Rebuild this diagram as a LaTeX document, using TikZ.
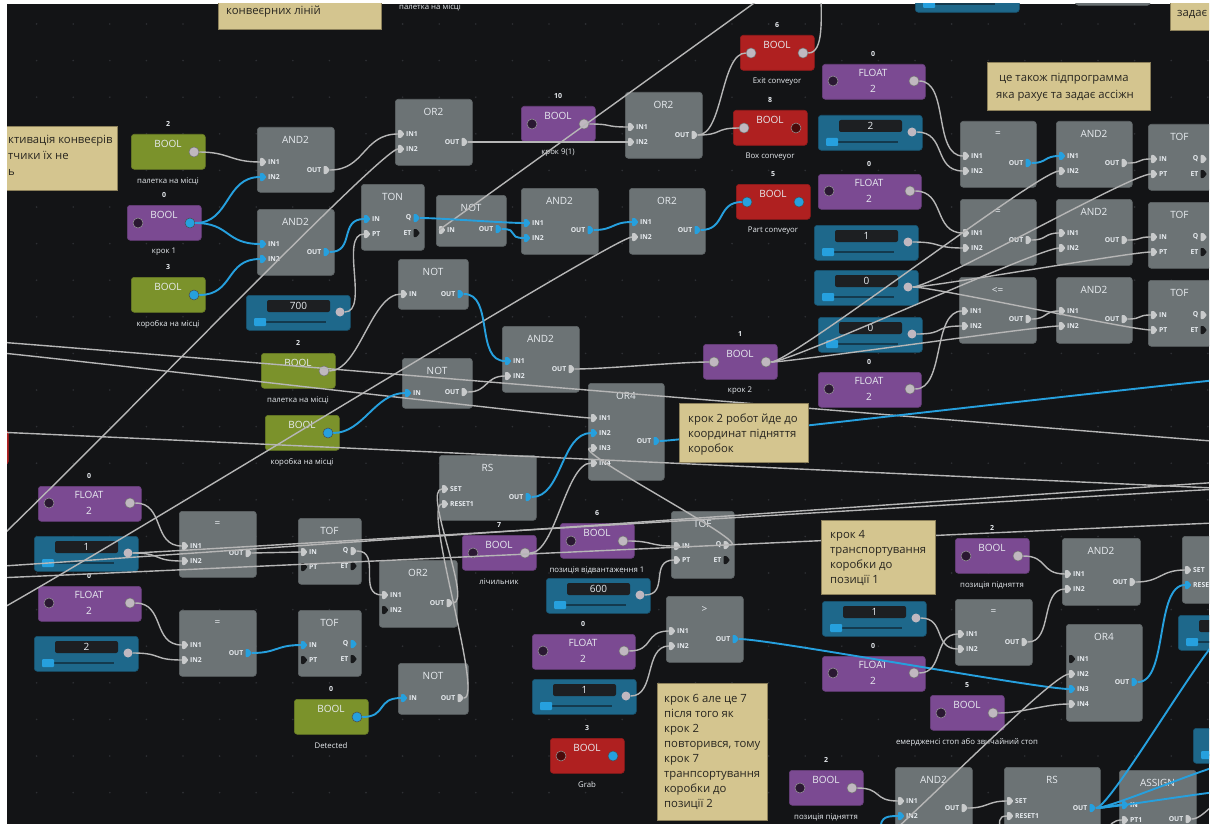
\documentclass[tikz,border=0pt]{standalone}
\usepackage{fontspec}
\setmainfont{Open Sans}
\usetikzlibrary{calc}

\definecolor{canvas}{RGB}{19,20,22}
\definecolor{griddot}{RGB}{46,48,52}
\definecolor{gatefill}{RGB}{108,115,117}
\definecolor{gateedge}{RGB}{96,102,104}
\definecolor{boolgreen}{RGB}{123,146,43}
\definecolor{boolpurple}{RGB}{123,74,146}
\definecolor{boolred}{RGB}{175,32,32}
\definecolor{tealbox}{RGB}{30,104,139}
\definecolor{tealfield}{RGB}{29,31,34}
\definecolor{tealtrack}{RGB}{20,58,78}
\definecolor{notefill}{RGB}{212,197,143}
\definecolor{noteedge}{RGB}{140,128,90}
\definecolor{notetextc}{RGB}{40,38,32}
\definecolor{wiregray}{RGB}{182,182,182}
\definecolor{wireblue}{RGB}{38,160,222}
\definecolor{pinlight}{RGB}{200,202,203}
\definecolor{pinblack}{RGB}{24,25,27}
\definecolor{labeltext}{RGB}{232,236,240}
\definecolor{knobgray}{RGB}{192,184,192}
\definecolor{knobdark}{RGB}{42,24,50}
\definecolor{knobred}{RGB}{72,10,10}

\tikzset{
  gatebox/.style={fill=gatefill, draw=gateedge, line width=.6pt, rounded corners=3pt, inner sep=0pt, anchor=north west},
  gatetitle/.style={text=labeltext, font=\fontsize{10}{10}\selectfont, inner sep=0pt},
  pinlabel/.style={text=labeltext, font=\bfseries\fontsize{6.8}{7}\selectfont, inner sep=0pt},
  numlabel/.style={text=labeltext, font=\bfseries\fontsize{7}{7}\selectfont, inner sep=0pt},
  namelabel/.style={text=labeltext, font=\fontsize{7.8}{8}\selectfont, inner sep=0pt},
  knob/.style={circle, inner sep=0pt, minimum size=10pt, line width=.5pt},
  kgray/.style={knob, fill=knobgray, draw=black!55},
  kblue/.style={knob, fill=wireblue, draw=black!70},
  kdark/.style={knob, fill=knobdark, draw=black!40},
  kred/.style={knob, fill=knobred, draw=black!40},
  knone/.style={knob},
  gw/.style={draw=wiregray, line width=1.4pt},
  bw/.style={draw=wireblue, line width=1.9pt},
  notebox/.style={fill=notefill, draw=noteedge, line width=.7pt, inner sep=0pt, anchor=north west},
  notetext/.style={text=notetextc, font=\fontsize{11.3}{15}\selectfont, align=left, inner sep=0pt, anchor=north west},
}

% logic block: name, x, y, width, height, title
\newcommand\gate[6]{%
  \node[gatebox, minimum width=#4pt, minimum height=#5pt] (#1) at (#2,#3) {};
  \node[gatetitle] (#1-title) at (#2+#4/2,#3+13) {#6};
}
% input pin: name, left edge of block, y, label, colour
\newcommand\inpin[5]{%
  \fill[#5, rounded corners=.8pt] (#2+3,#3-4) -- (#2+6,#3-4) -- (#2+9.5,#3) -- (#2+6,#3+4) -- (#2+3,#3+4) -- cycle;
  \coordinate (#1) at (#2+3,#3);
  \node[pinlabel, anchor=west] (#1-lbl) at (#2+11,#3) {#4};
}
% output pin: name, right edge of block, y, label, colour
\newcommand\outpin[5]{%
  \fill[#5, rounded corners=.8pt] (#2-10.5,#3-4) -- (#2-7.5,#3-4) -- (#2-4,#3) -- (#2-7.5,#3+4) -- (#2-10.5,#3+4) -- cycle;
  \coordinate (#1) at (#2-4,#3);
  \node[pinlabel, anchor=east] (#1-lbl) at (#2-12.5,#3) {#4};
}
% boolean variable: name, x, y, colour, number, caption, left knob, right knob
\newcommand\boolnode[8]{%
  \node[gatebox, fill=#4, draw=#4!85!black, minimum width=74pt, minimum height=35pt] (#1) at (#2,#3) {};
  \node[gatetitle] (#1-title) at (#2+37,#3+10) {BOOL};
  \node[numlabel] (#1-num) at (#2+37,#3-10) {#5};
  \node[namelabel] (#1-cap) at (#2+37,#3+47) {#6};
  \node[#7] (#1-l) at (#2+11,#3+18) {};
  \node[#8] (#1-r) at (#2+63,#3+18) {};
}
% float variable: name, x, y, number
\newcommand\floatnode[4]{%
  \node[gatebox, fill=boolpurple, draw=boolpurple!85!black, minimum width=103pt, minimum height=35pt] (#1) at (#2,#3) {};
  \node[gatetitle] (#1-title) at (#2+51,#3+9) {FLOAT};
  \node[gatetitle] (#1-val) at (#2+51,#3+25) {2};
  \node[numlabel] (#1-num) at (#2+51,#3-10) {#4};
  \node[kdark] (#1-l) at (#2+11,#3+17) {};
  \node[kgray] (#1-r) at (#2+92,#3+17) {};
}
% numeric input with slider: name, x, y, value
\newcommand\tealnode[4]{%
  \node[gatebox, fill=tealbox, draw=tealbox!80!black, minimum width=104pt, minimum height=35pt] (#1) at (#2,#3) {};
  \fill[tealfield, rounded corners=2pt] (#2+21,#3+5) rectangle (#2+84,#3+17);
  \node[gatetitle] (#1-val) at (#2+52.5,#3+11) {#4};
  \draw[tealtrack, line width=1.2pt] (#2+14,#3+27) -- (#2+80,#3+27);
  \fill[wireblue, rounded corners=1pt] (#2+8,#3+23) rectangle (#2+20,#3+31);
  \node[knob, fill=knobgray, minimum size=9pt] (#1-r) at (#2+94,#3+17) {};
}
% connector: [style] control distance, from, to
\newcommand\wire[4][gw]{\draw[#1] (#3) .. controls +(#2,0) and +(-#2,0) .. (#4);}

\begin{document}
\begin{tikzpicture}[x=1pt,y=-1pt]
\useasboundingbox (0,0) rectangle (1210,824);
\fill[white] (0,0) rectangle (1210,824);
\clip (7,4) rectangle (1209,824);
\fill[canvas] (7,4) rectangle (1209,824);
\foreach \i in {1,...,33} \foreach \j in {0,...,22} \fill[griddot] (36.6*\i,24+36.6*\j) circle[radius=0.9];

% ---------- blocks cut by the border ----------
\node[gatebox, minimum width=75pt, minimum height=60pt] (topgate) at (1075,-55) {};
\node[gatebox, fill=boolred, draw=boolred, minimum width=74pt, minimum height=34pt] (leftred) at (-66,430) {};
\tealnode{tp3}{915}{-23}{}
\tealnode{tp1}{1178}{615}{}
\tealnode{tp2}{1193}{728}{}
\node[namelabel] (toplabel) at (430,7) {палетка на місці};

% ---------- variables ----------
\boolnode{pal1}{131}{134}{boolgreen}{2}{палетка на місці}{knone}{kgray}
\boolnode{krok1}{127}{205}{boolpurple}{0}{крок 1}{kdark}{kblue}
\boolnode{korob1}{131}{277}{boolgreen}{3}{коробка на місці}{knone}{kblue}
\boolnode{bool10}{521}{106}{boolpurple}{10}{крок 9(1)}{kdark}{kgray}
\boolnode{exit}{740}{35}{boolred}{6}{Exit conveyor}{kgray}{kgray}
\boolnode{boxc}{733}{110}{boolred}{8}{Box conveyor}{kgray}{kred}
\boolnode{part}{736}{184}{boolred}{5}{Part conveyor}{kblue}{kblue}
\boolnode{pal2}{261}{353}{boolgreen}{2}{палетка на місці}{knone}{kgray}
\boolnode{korob2}{265}{415}{boolgreen}{}{коробка на місці}{knone}{kblue}
\boolnode{krok2}{703}{344}{boolpurple}{1}{крок 2}{kgray}{kgray}
\boolnode{count}{462}{535}{boolpurple}{7}{лічильник}{kdark}{kgray}
\boolnode{unload}{560}{523}{boolpurple}{6}{позиція відвантаження 1}{kdark}{kgray}
\boolnode{det}{294}{699}{boolgreen}{0}{Detected}{knone}{kblue}
\boolnode{grab}{550}{738}{boolred}{3}{Grab}{kred}{kblue}
\boolnode{lift1}{955}{538}{boolpurple}{2}{позиція підняття}{kdark}{kgray}
\boolnode{estop}{930}{695}{boolpurple}{5}{емердженсі стоп або звичайний стоп}{kdark}{kgray}
\boolnode{lift2}{789}{770}{boolpurple}{2}{позиція підняття}{kdark}{kgray}

\floatnode{fl1}{822}{64}{0}
\floatnode{fl2}{818}{174}{0}
\floatnode{fl3}{818}{372}{0}
\floatnode{fla}{38}{486}{0}
\floatnode{flb}{38}{586}{0}
\floatnode{flc}{532}{634}{0}
\floatnode{fld}{822}{656}{0}

\tealnode{t700}{246}{295}{700}
\tealnode{tv2}{818}{115}{2}
\tealnode{tv1}{814}{225}{1}
\tealnode{tz1}{814}{270}{0}
\tealnode{tz2}{818}{317}{0}
\tealnode{ta1}{34}{536}{1}
\tealnode{ta2}{34}{636}{2}
\tealnode{t600}{546}{578}{600}
\tealnode{tc1}{532}{679}{1}
\tealnode{td1}{822}{601}{1}

% ---------- logic blocks ----------
\gate{g1}{257}{127}{77}{65}{AND2}
\inpin{g1-i1}{257}{162}{IN1}{pinlight}\inpin{g1-i2}{257}{177}{IN2}{wireblue}\outpin{g1-o}{334}{170}{OUT}{pinlight}
\gate{g2}{257}{209}{77}{66}{AND2}
\inpin{g2-i1}{257}{244}{IN1}{wireblue}\inpin{g2-i2}{257}{259}{IN2}{wireblue}\outpin{g2-o}{334}{252}{OUT}{wireblue}
\gate{g3}{395}{99}{77}{66}{OR2}
\inpin{g3-i1}{395}{134}{IN1}{pinlight}\inpin{g3-i2}{395}{149}{IN2}{pinlight}\outpin{g3-o}{472}{142}{OUT}{pinlight}
\gate{ton}{361}{184}{63}{66}{TON}
\inpin{ton-i1}{361}{219}{IN}{wireblue}\inpin{ton-i2}{361}{234}{PT}{pinlight}\outpin{ton-q}{424}{218}{Q}{wireblue}\outpin{ton-et}{424}{233}{ET}{pinblack}
\gate{not1}{436}{195}{70}{51}{NOT}
\inpin{not1-i1}{436}{230}{IN}{pinlight}\outpin{not1-o}{506}{229}{OUT}{wireblue}
\gate{g4}{521}{188}{77}{66}{AND2}
\inpin{g4-i1}{521}{223}{IN1}{wireblue}\inpin{g4-i2}{521}{238}{IN2}{wireblue}\outpin{g4-o}{598}{230}{OUT}{wireblue}
\gate{not2}{398}{259}{70}{50}{NOT}
\inpin{not2-i1}{398}{294}{IN}{pinlight}\outpin{not2-o}{468}{294}{OUT}{wireblue}
\gate{g5}{502}{326}{77}{66}{AND2}
\inpin{g5-i1}{502}{361}{IN1}{wireblue}\inpin{g5-i2}{502}{376}{IN2}{pinlight}\outpin{g5-o}{579}{369}{OUT}{pinlight}
\gate{not3}{402}{358}{70}{50}{NOT}
\inpin{not3-i1}{402}{393}{IN}{wireblue}\outpin{not3-o}{472}{392}{OUT}{pinlight}
\gate{or4a}{588}{383}{76}{97}{OR4}
\inpin{or4a-i1}{588}{418}{IN1}{pinlight}\inpin{or4a-i2}{588}{433}{IN2}{wireblue}\inpin{or4a-i3}{588}{448}{IN3}{pinlight}\inpin{or4a-i4}{588}{463}{IN4}{pinlight}
\outpin{or4a-o}{664}{441}{OUT}{wireblue}
\gate{rs1}{439}{455}{97}{65}{RS}
\inpin{rs1-i1}{439}{489}{SET}{pinlight}\inpin{rs1-i2}{439}{504}{RESET1}{pinlight}\outpin{rs1-o}{536}{497}{OUT}{wireblue}
\gate{or2b}{625}{92}{77}{66}{OR2}
\inpin{or2b-i1}{625}{127}{IN1}{pinlight}\inpin{or2b-i2}{625}{142}{IN2}{pinlight}\outpin{or2b-o}{702}{135}{OUT}{pinlight}
\gate{or2c}{629}{188}{76}{66}{OR2}
\inpin{or2c-i1}{629}{222}{IN1}{wireblue}\inpin{or2c-i2}{629}{237}{IN2}{pinlight}\outpin{or2c-o}{705}{230}{OUT}{wireblue}

\gate{eq1}{960}{121}{76}{66}{=}
\inpin{eq1-i1}{960}{156}{IN1}{pinlight}\inpin{eq1-i2}{960}{171}{IN2}{pinlight}\outpin{eq1-o}{1036}{163}{OUT}{wireblue}
\gate{and5}{1056}{121}{76}{66}{AND2}
\inpin{and5-i1}{1056}{156}{IN1}{wireblue}\inpin{and5-i2}{1056}{171}{IN2}{pinlight}\outpin{and5-o}{1132}{163}{OUT}{pinlight}
\gate{tof1}{1148}{124}{63}{66}{TOF}
\inpin{tof1-i1}{1148}{159}{IN}{pinlight}\inpin{tof1-i2}{1148}{174}{PT}{pinlight}\outpin{tof1-q}{1211}{159}{Q}{pinlight}\outpin{tof1-et}{1211}{174}{ET}{pinblack}
\gate{eq2}{960}{199}{76}{66}{=}
\inpin{eq2-i1}{960}{233}{IN1}{pinlight}\inpin{eq2-i2}{960}{248}{IN2}{pinlight}\outpin{eq2-o}{1036}{240}{OUT}{pinlight}
\gate{and6}{1056}{199}{76}{66}{AND2}
\inpin{and6-i1}{1056}{233}{IN1}{pinlight}\inpin{and6-i2}{1056}{248}{IN2}{pinlight}\outpin{and6-o}{1132}{240}{OUT}{pinlight}
\gate{tof2}{1148}{202}{63}{66}{TOF}
\inpin{tof2-i1}{1148}{237}{IN}{pinlight}\inpin{tof2-i2}{1148}{252}{PT}{pinlight}\outpin{tof2-q}{1211}{237}{Q}{pinlight}\outpin{tof2-et}{1211}{252}{ET}{pinblack}
\gate{le}{959}{277}{77}{66}{<=}
\inpin{le-i1}{959}{311}{IN1}{pinlight}\inpin{le-i2}{959}{326}{IN2}{pinlight}\outpin{le-o}{1036}{319}{OUT}{pinlight}
\gate{and7}{1056}{277}{76}{66}{AND2}
\inpin{and7-i1}{1056}{311}{IN1}{pinlight}\inpin{and7-i2}{1056}{326}{IN2}{pinlight}\outpin{and7-o}{1132}{319}{OUT}{pinlight}
\gate{tof3}{1148}{280}{63}{66}{TOF}
\inpin{tof3-i1}{1148}{315}{IN}{pinlight}\inpin{tof3-i2}{1148}{330}{PT}{pinlight}\outpin{tof3-q}{1211}{315}{Q}{pinlight}\outpin{tof3-et}{1211}{330}{ET}{pinblack}

\gate{eq3}{179}{511}{77}{66}{=}
\inpin{eq3-i1}{179}{546}{IN1}{pinlight}\inpin{eq3-i2}{179}{561}{IN2}{pinlight}\outpin{eq3-o}{256}{553}{OUT}{pinlight}
\gate{eq4}{179}{610}{77}{66}{=}
\inpin{eq4-i1}{179}{645}{IN1}{pinlight}\inpin{eq4-i2}{179}{660}{IN2}{pinlight}\outpin{eq4-o}{256}{653}{OUT}{wireblue}
\gate{tof4}{298}{518}{63}{66}{TOF}
\inpin{tof4-i1}{298}{552}{IN}{pinlight}\inpin{tof4-i2}{298}{567}{PT}{pinblack}\outpin{tof4-q}{361}{551}{Q}{pinlight}\outpin{tof4-et}{361}{566}{ET}{pinblack}
\gate{tof5}{298}{610}{63}{66}{TOF}
\inpin{tof5-i1}{298}{645}{IN}{wireblue}\inpin{tof5-i2}{298}{660}{PT}{pinblack}\outpin{tof5-q}{361}{644}{Q}{wireblue}\outpin{tof5-et}{361}{659}{ET}{pinblack}
\gate{or2d}{379}{560}{78}{67}{OR2}
\inpin{or2d-i1}{379}{595}{IN1}{pinlight}\inpin{or2d-i2}{379}{610}{IN2}{pinblack}\outpin{or2d-o}{457}{603}{OUT}{pinlight}
\gate{not4}{398}{663}{70}{51}{NOT}
\inpin{not4-i1}{398}{698}{IN}{wireblue}\outpin{not4-o}{468}{698}{OUT}{pinlight}
\gate{tof6}{671}{511}{63}{67}{TOF}
\inpin{tof6-i1}{671}{546}{IN}{pinlight}\inpin{tof6-i2}{671}{560}{PT}{pinlight}\outpin{tof6-q}{734}{545}{Q}{pinlight}\outpin{tof6-et}{734}{560}{ET}{pinblack}
\gate{gt}{666}{596}{77}{66}{>}
\inpin{gt-i1}{666}{631}{IN1}{pinlight}\inpin{gt-i2}{666}{646}{IN2}{pinlight}\outpin{gt-o}{743}{639}{OUT}{wireblue}

\gate{and8}{1062}{538}{78}{67}{AND2}
\inpin{and8-i1}{1062}{574}{IN1}{pinlight}\inpin{and8-i2}{1062}{589}{IN2}{pinlight}\outpin{and8-o}{1140}{582}{OUT}{pinlight}
% RS block running off the right border: only its set/reset pins show
\node[gatebox, minimum width=97pt, minimum height=67pt] (rs2) at (1182,536) {};
\inpin{rs2-i1}{1182}{570}{SET}{pinlight}\inpin{rs2-i2}{1182}{585}{RESE}{wireblue}
\gate{eq5}{955}{599}{77}{66}{=}
\inpin{eq5-i1}{955}{634}{IN1}{pinlight}\inpin{eq5-i2}{955}{649}{IN2}{pinlight}\outpin{eq5-o}{1032}{642}{OUT}{pinlight}
\gate{or4b}{1066}{624}{76}{97}{OR4}
\inpin{or4b-i1}{1066}{659}{IN1}{pinblack}\inpin{or4b-i2}{1066}{674}{IN2}{pinlight}\inpin{or4b-i3}{1066}{689}{IN3}{wireblue}\inpin{or4b-i4}{1066}{704}{IN4}{pinlight}
\outpin{or4b-o}{1142}{682}{OUT}{wireblue}
\gate{and9}{895}{767}{77}{70}{AND2}
\inpin{and9-i1}{895}{801}{IN1}{pinlight}\inpin{and9-i2}{895}{816}{IN2}{wireblue}\outpin{and9-o}{972}{808}{OUT}{pinlight}
\gate{rs3}{1004}{767}{96}{70}{RS}
\inpin{rs3-i1}{1004}{801}{SET}{pinlight}\inpin{rs3-i2}{1004}{816}{RESET1}{pinlight}\outpin{rs3-o}{1100}{808}{OUT}{wireblue}
\gate{assign}{1119}{770}{77}{70}{ASSIGN}
\inpin{assign-i1}{1119}{805}{IN}{wireblue}\inpin{assign-i2}{1119}{820}{PT1}{pinlight}\outpin{assign-o}{1196}{819}{OUT}{pinlight}

% ---------- free ends of connectors leaving the view ----------
\coordinate (offExit) at (821,-8);
\coordinate (offLC) at (800,-30);
\coordinate (offLA) at (-60,590);
\coordinate (offLD) at (-40,630);
\coordinate (offL1) at (-30,340);  \coordinate (offR1) at (1240,443);
\coordinate (offL2) at (-30,350);
\coordinate (offL3) at (-30,431);  \coordinate (offR3) at (1240,489);
\coordinate (offL4) at (-30,568);  \coordinate (offR4) at (1240,481);
\coordinate (offR5) at (1240,488);
\coordinate (offL5) at (-30,579);  \coordinate (offR6) at (1240,522);
\coordinate (offR2) at (1240,378);
\coordinate (offB1) at (833,880);
\coordinate (offB2) at (880,836);
\coordinate (offB3) at (1000,834);
\coordinate (offB4) at (1108,834);
\coordinate (offRS1) at (1228,630);
\coordinate (offRS2) at (1228,764);
\coordinate (offRS3) at (1228,791);
\coordinate (offAS) at (1232,793);

% ---------- connectors ----------
\wire{20}{offL1}{offR1}
\wire{20}{offL2}{or4a-i1}
\wire{20}{offL3}{offR3}
\wire{20}{offL4}{offR4}
\wire{20}{ta1-r.east}{offR5}
\wire{20}{offL5}{offR6}
\wire{20}{offLA}{g3-i2}
\wire{20}{offLD}{or2c-i2}
\draw[gw] (offLC) -- (not1-i1);

\wire{30}{pal1-r.east}{g1-i1}
\wire[bw]{35}{krok1-r.east}{g1-i2}
\wire[bw]{35}{krok1-r.east}{g2-i1}
\wire[bw]{35}{korob1-r.east}{g2-i2}
\wire{35}{g1-o}{g3-i1}
\wire[bw]{25}{g2-o}{ton-i1}
\wire{25}{t700-r.east}{ton-i2}
\wire[bw]{20}{ton-q}{g4-i1}
\wire[bw]{18}{not1-o}{g4-i2}
\wire{30}{g3-o}{or2b-i2}
\wire{25}{bool10-r.east}{or2b-i1}
\wire{25}{or2b-o}{exit-l.west}
\wire{25}{or2b-o}{boxc-l.west}
\draw[gw] (exit-r.east) .. controls +(16,0) and +(0,25) .. (offExit);
\wire[bw]{20}{g4-o}{or2c-i1}
\wire[bw]{25}{or2c-o}{part-l.west}

\wire{30}{fl1-r.east}{eq1-i1}
\wire{30}{tv2-r.east}{eq1-i2}
\wire{30}{fl2-r.east}{eq2-i1}
\wire{30}{tv1-r.east}{eq2-i2}
\wire{30}{fl3-r.east}{le-i1}
\wire{30}{tz2-r.east}{le-i2}
\wire[bw]{15}{eq1-o}{and5-i1}
\wire{15}{eq2-o}{and6-i1}
\wire{15}{le-o}{and7-i1}
\wire{15}{and5-o}{tof1-i1}
\wire{15}{and6-o}{tof2-i1}
\wire{15}{and7-o}{tof3-i1}
\wire{20}{krok2-r.east}{and5-i2}
\wire{20}{krok2-r.east}{and6-i2}
\wire{20}{krok2-r.east}{and7-i2}
\wire{20}{tz1-r.east}{tof1-i2}
\wire{20}{tz1-r.east}{tof2-i2}
\wire{20}{tz1-r.east}{tof3-i2}

\wire{30}{pal2-r.east}{not2-i1}
\wire[bw]{30}{korob2-r.east}{not3-i1}
\wire[bw]{30}{not2-o}{g5-i1}
\wire{20}{not3-o}{g5-i2}
\wire{30}{g5-o}{krok2-l.west}
\wire[bw]{30}{rs1-o}{or4a-i2}
\wire{25}{tof6-q}{or4a-i3}
\wire{25}{count-r.east}{or4a-i4}
\wire{20}{or2d-o}{rs1-i1}
\wire{20}{not4-o}{rs1-i2}
\wire[bw]{20}{or4a-o}{offR2}

\wire{30}{fla-r.east}{eq3-i1}
\wire{30}{ta1-r.east}{eq3-i2}
\wire{30}{flb-r.east}{eq4-i1}
\wire{30}{ta2-r.east}{eq4-i2}
\wire{25}{eq3-o}{tof4-i1}
\wire[bw]{25}{eq4-o}{tof5-i1}
\wire{25}{tof4-q}{or2d-i1}
\wire[bw]{25}{det-r.east}{not4-i1}
\wire{25}{unload-r.east}{tof6-i1}
\wire{25}{t600-r.east}{tof6-i2}
\wire{25}{flc-r.east}{gt-i1}
\wire{25}{tc1-r.east}{gt-i2}
\wire[bw]{30}{gt-o}{or4b-i3}

\wire{25}{lift1-r.east}{and8-i1}
\wire{25}{eq5-o}{and8-i2}
\wire{25}{fld-r.east}{eq5-i1}
\wire{25}{td1-r.east}{eq5-i2}
\wire{25}{estop-r.east}{or4b-i4}
\wire[bw]{30}{or4b-o}{rs2-i2}
\wire{25}{and8-o}{rs2-i1}
\wire{20}{offB1}{or4b-i2}
\wire{25}{lift2-r.east}{and9-i1}
\draw[bw] (offB2) .. controls +(0,-18) and +(-15,0) .. (and9-i2);
\wire{20}{and9-o}{rs3-i1}
\draw[gw] (offB3) .. controls +(0,-12) and +(-10,0) .. (rs3-i2);
\draw[gw] (offB4) .. controls +(0,-10) and +(-8,0) .. (assign-i2);
\wire[bw]{12}{rs3-o}{assign-i1}
\wire[bw]{15}{rs3-o}{offRS1}
\wire[bw]{15}{rs3-o}{offRS2}
\wire[bw]{15}{rs3-o}{offRS3}
\wire{12}{assign-o}{offAS}

% ---------- comments ----------
\node[notebox, minimum width=163pt, minimum height=59pt] (noteTop) at (218,-30) {};
\node[notetext] (noteTop-text) at (226,4) {\rule{0pt}{10pt}конвеєрних ліній};
\node[notebox, minimum width=177pt, minimum height=64pt] (noteLeft) at (-60,126) {};
\node[notetext, font=\fontsize{11.3}{16}\selectfont] (noteLeft-text) at (8,133) {\rule{0pt}{10pt}ктивація конвеєрів\\тчики їх не\\ь};
\node[notebox, minimum width=163pt, minimum height=48pt] (noteSub) at (987,62) {};
\node[notetext, font=\fontsize{11.3}{17}\selectfont] (noteSub-text) at (996,71) {\rule{0pt}{10pt}\ це також підпрограмма\\яка рахує та задає ассіжн};
\node[notebox, minimum width=60pt, minimum height=60pt] (noteTR) at (1170,-30) {};
\node[notetext] (noteTR-text) at (1177,6) {\rule{0pt}{10pt}задає};
\node[notebox, minimum width=129pt, minimum height=59pt] (noteRobot) at (679,403) {};
\node[notetext] (noteRobot-text) at (688,412) {\rule{0pt}{10pt}крок 2 робот йде до\\координат підняття\\коробок};
\node[notebox, minimum width=114pt, minimum height=74pt] (noteStep4) at (821,520) {};
\node[notetext] (noteStep4-text) at (830,528) {\rule{0pt}{10pt}крок 4\\транспортування\\коробки до\\позиції 1};
\node[notebox, minimum width=110pt, minimum height=137pt] (noteStep6) at (657,683) {};
\node[notetext] (noteStep6-text) at (664,692) {\rule{0pt}{10pt}крок 6 але це 7\\після того як\\крок 2\\повторився, тому\\крок 7\\транпсортування\\коробки до\\позиції 2};
\end{tikzpicture}
\end{document}
